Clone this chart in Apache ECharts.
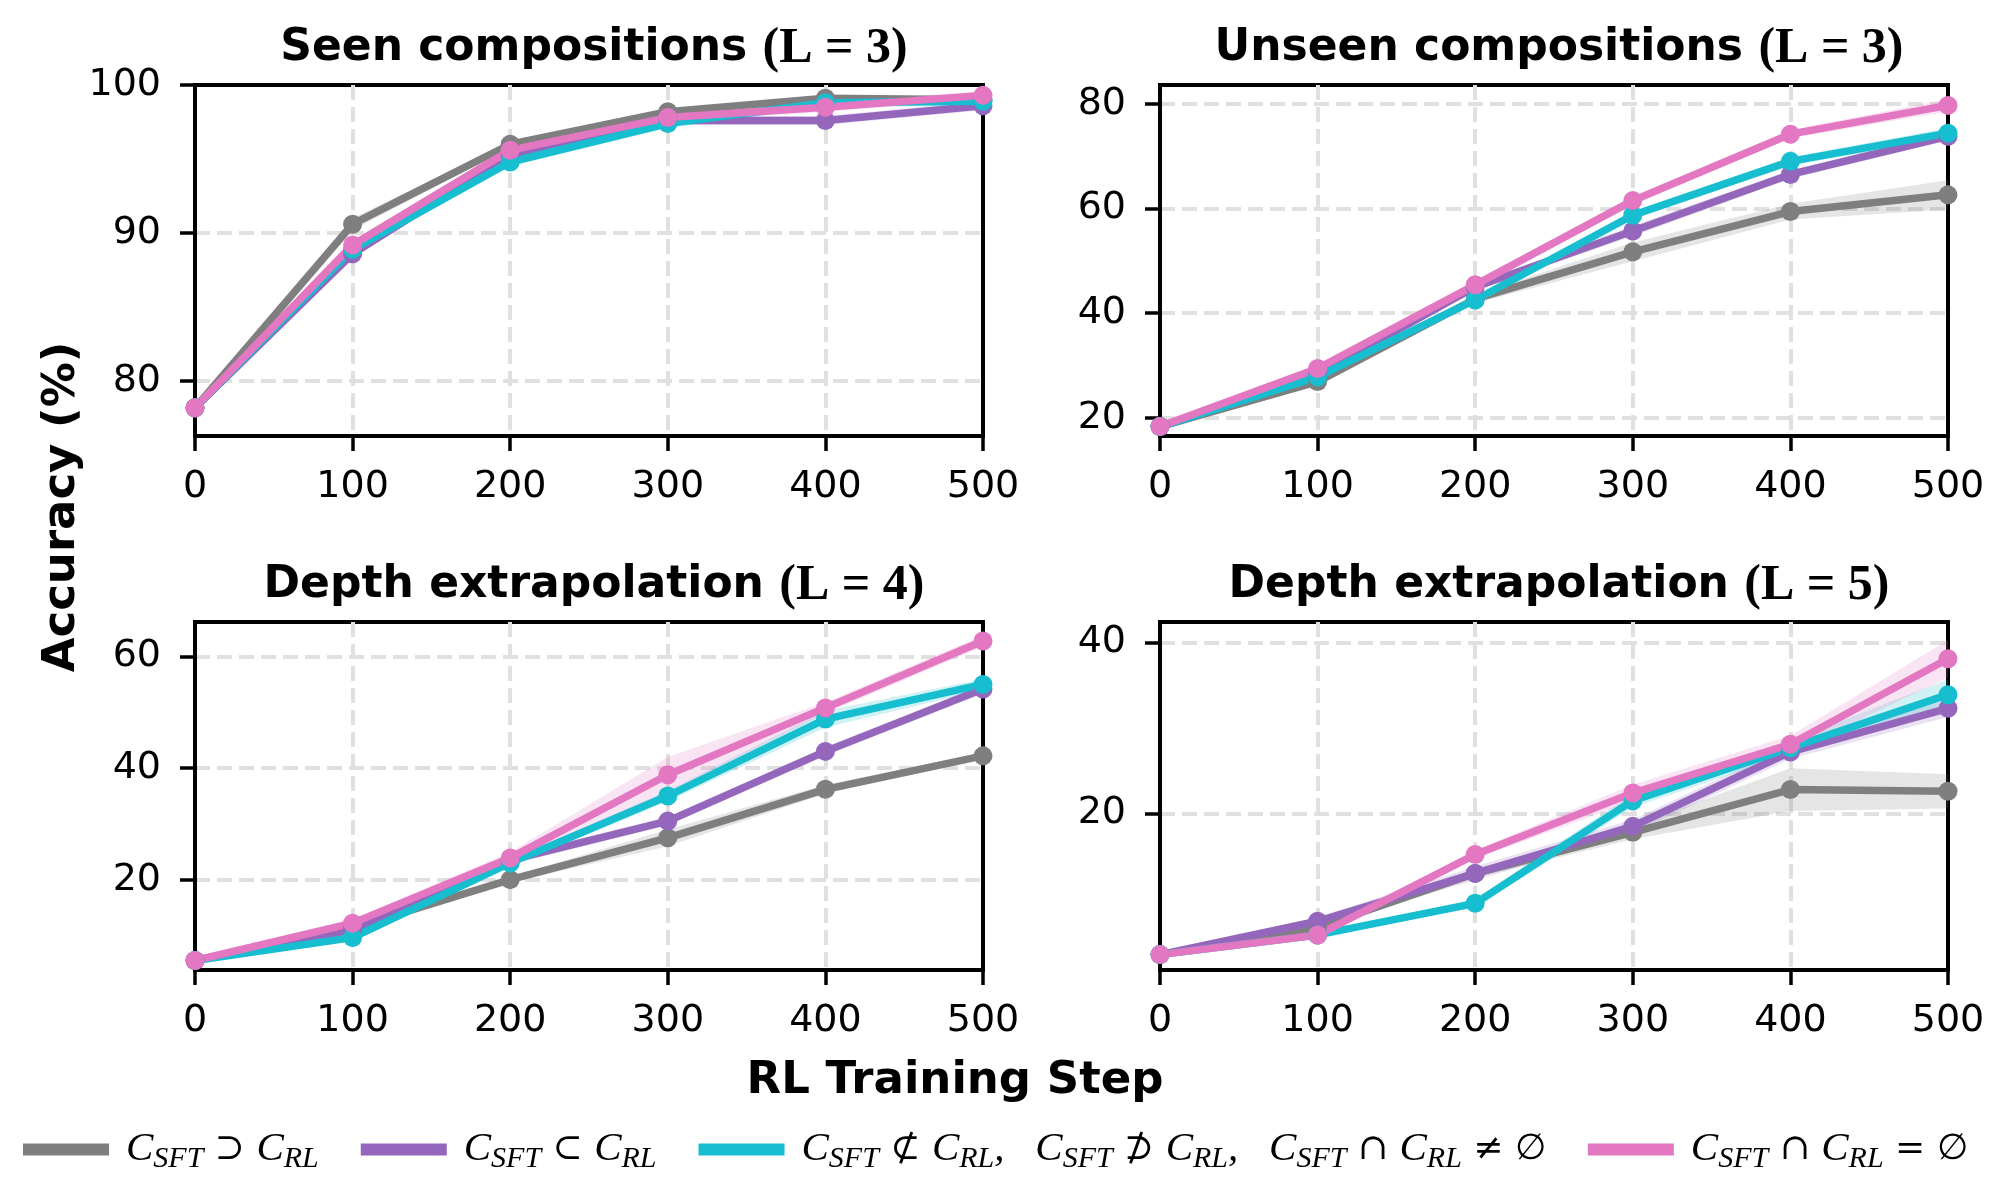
<!DOCTYPE html>
<html>
<head>
<meta charset="utf-8">
<script src="https://cdn.jsdelivr.net/npm/echarts@6/dist/echarts.min.js"></script>
<style>
  html, body { margin: 0; padding: 0; background: #fff; }
  #chart { width: 2010px; height: 1192px; }
</style>
</head>
<body>
<div id="chart"></div>
<script>
// RL training steps (x axis)
const steps = ['0', '100', '200', '300', '400', '500']

// Seen compositions (L=3)
const seenSup = [78.2, 90.6, 96.0, 98.2, 99.1, 99.0]
const seenSub = [78.2, 88.6, 95.3, 97.6, 97.6, 98.6]
const seenOverlap = [78.2, 88.9, 94.8, 97.4, 98.8, 98.9]
const seenDisjoint = [78.2, 89.2, 95.6, 97.8, 98.5, 99.3]
const seenSupStd = [0.1, 0.4, 0.2, 0.2, 0.2, 0.2]
const seenSubStd = [0.1, 0.3, 0.3, 0.3, 0.3, 0.3]
const seenOverlapStd = [0.1, 0.3, 0.3, 0.3, 0.3, 0.3]
const seenDisjointStd = [0.1, 0.3, 0.3, 0.3, 0.3, 0.3]
const seenTicks = [80, 90, 100]

// Unseen compositions (L=3)
const unseenSup = [18.3, 26.9, 42.7, 51.7, 59.4, 62.6]
const unseenSub = [18.3, 28.3, 45.0, 55.7, 66.5, 73.8]
const unseenOverlap = [18.3, 27.8, 42.5, 58.7, 69.0, 74.4]
const unseenDisjoint = [18.3, 29.4, 45.4, 61.5, 74.2, 79.7]
const unseenSupStd = [0.3, 0.8, 0.8, 1.8, 1.5, 2.8]
const unseenSubStd = [0.3, 0.5, 0.6, 1.0, 0.8, 0.8]
const unseenOverlapStd = [0.3, 0.5, 0.6, 0.8, 0.8, 1.0]
const unseenDisjointStd = [0.3, 0.5, 0.6, 0.8, 0.8, 1.2]
const unseenTicks = [20, 40, 60, 80]

// Depth extrapolation (L=4)
const depth4Sup = [5.5, 11.3, 20.0, 27.5, 36.2, 42.2]
const depth4Sub = [5.5, 11.0, 23.5, 30.5, 43.0, 54.2]
const depth4Overlap = [5.5, 9.6, 23.0, 35.0, 48.8, 55.0]
const depth4Disjoint = [5.5, 12.2, 23.9, 38.8, 50.8, 62.8]
const depth4SupStd = [0.3, 0.5, 0.5, 1.5, 0.8, 0.5]
const depth4SubStd = [0.3, 0.5, 0.8, 0.8, 0.8, 0.8]
const depth4OverlapStd = [0.3, 0.5, 0.5, 1.0, 1.5, 1.0]
const depth4DisjointStd = [0.3, 0.6, 1.0, 3.2, 1.0, 1.0]
const depth4Ticks = [20, 40, 60]

// Depth extrapolation (L=5)
const depth5Sup = [3.5, 6.7, 13.0, 17.8, 22.8, 22.6]
const depth5Sub = [3.5, 7.4, 13.0, 18.5, 27.2, 32.3]
const depth5Overlap = [3.5, 5.8, 9.5, 21.5, 27.7, 33.9]
const depth5Disjoint = [3.5, 5.8, 15.2, 22.4, 28.1, 38.1]
const depth5SupStd = [0.2, 0.5, 0.5, 0.8, 2.5, 2.0]
const depth5SubStd = [0.2, 0.5, 0.8, 0.8, 0.8, 1.0]
const depth5OverlapStd = [0.2, 0.3, 0.5, 0.8, 0.8, 1.8]
const depth5DisjointStd = [0.2, 0.3, 0.5, 1.0, 1.0, 2.2]
const depth5Ticks = [20, 40]

const names = ['sup', 'sub', 'overlap', 'disjoint']
const colors = ['#7f7f7f', '#9467bd', '#17becf', '#e377c2']

// 图例文字（数学符号）
const legendText = {
  sup: '{g|}{c|C}{s|SFT}{o| ⊃ }{c|C}{s|RL}',
  sub: '{g|}{c|C}{s|SFT}{o| ⊂ }{c|C}{s|RL}',
  overlap: '{g|}{c|C}{s|SFT}{o| ⊄ }{c|C}{s|RL}{c|,   }{c|C}{s|SFT}{o| ⊅ }{c|C}{s|RL}{c|,   }{c|C}{s|SFT}{o| ∩ }{c|C}{s|RL}{o| ≠ ∅}',
  disjoint: '{g|}{c|C}{s|SFT}{o| ∩ }{c|C}{s|RL}{o| = ∅}'
}

const panels = [
  { title: 'Seen compositions ', level: 3, left: 195, top: 85, height: 351, min: 76.3, max: 100, ticks: seenTicks,
    means: [seenSup, seenSub, seenOverlap, seenDisjoint], stds: [seenSupStd, seenSubStd, seenOverlapStd, seenDisjointStd] },
  { title: 'Unseen compositions ', level: 3, left: 1160, top: 85, height: 351, min: 16.5, max: 83.6, ticks: unseenTicks,
    means: [unseenSup, unseenSub, unseenOverlap, unseenDisjoint], stds: [unseenSupStd, unseenSubStd, unseenOverlapStd, unseenDisjointStd] },
  { title: 'Depth extrapolation ', level: 4, left: 195, top: 622, height: 348, min: 3.8, max: 66.2, ticks: depth4Ticks,
    means: [depth4Sup, depth4Sub, depth4Overlap, depth4Disjoint], stds: [depth4SupStd, depth4SubStd, depth4OverlapStd, depth4DisjointStd] },
  { title: 'Depth extrapolation ', level: 5, left: 1160, top: 622, height: 348, min: 1.7, max: 42.4, ticks: depth5Ticks,
    means: [depth5Sup, depth5Sub, depth5Overlap, depth5Disjoint], stds: [depth5SupStd, depth5SubStd, depth5OverlapStd, depth5DisjointStd] }
]

const PANEL_W = 788
const tickFont = { color: '#000', fontSize: 38, fontFamily: 'DejaVu Sans' }
const gridLine = (showMin, showMax) => ({
  show: true, showMinLine: showMin, showMaxLine: showMax,
  lineStyle: { color: '#e0e0e0', width: 4, type: [15, 7] }
})

const grid = []
const xAxis = []
const yAxis = []
const title = []
const bandSeries = []
const lineSeries = []

panels.forEach((p, k) => {
  grid.push({
    left: p.left, top: p.top, width: PANEL_W, height: p.height,
    show: true, borderColor: '#000', borderWidth: 4, backgroundColor: 'transparent',
    containLabel: false, outerBoundsMode: 'none'
  })
  xAxis.push({
    gridIndex: k, type: 'category', data: steps, boundaryGap: false,
    axisLine: { show: true, onZero: false, lineStyle: { color: '#000', width: 4 } },
    axisTick: { show: true, length: 15, lineStyle: { color: '#000', width: 3.5 } },
    axisLabel: { ...tickFont, margin: 32 },
    // 0 和 500 在边框上，不画网格线
    splitLine: gridLine(false, false)
  })
  yAxis.push({
    gridIndex: k, type: 'value', min: p.min, max: p.max,
    axisLine: { show: true, onZero: false, lineStyle: { color: '#000', width: 4 } },
    axisTick: { show: true, length: 15, customValues: p.ticks, lineStyle: { color: '#000', width: 3.5 } },
    axisLabel: { ...tickFont, margin: 34, customValues: p.ticks },
    splitLine: gridLine(p.ticks[0] > p.min, p.ticks[p.ticks.length - 1] < p.max)
  })
  title.push({
    text: '{a|' + p.title + '}{b|(L = ' + p.level + ')}',
    left: p.left + PANEL_W / 2,
    top: k < 2 ? 18 : 555,
    textAlign: 'center',
    textStyle: {
      rich: {
        a: { fontFamily: 'DejaVu Sans', fontWeight: 'bold', fontSize: 44, color: '#000', lineHeight: 52 },
        b: { fontFamily: 'Liberation Serif', fontWeight: 'bold', fontSize: 50, color: '#000', lineHeight: 52 }
      }
    }
  })

  p.means.forEach((m, i) => {
    const sd = p.stds[i]
    // 误差带：下界 + 带宽堆叠
    bandSeries.push({
      type: 'line', xAxisIndex: k, yAxisIndex: k, stack: 'band' + k + '_' + i,
      data: m.map((v, j) => v - sd[j]),
      symbol: 'none', lineStyle: { opacity: 0 }, silent: true, z: 2
    })
    bandSeries.push({
      type: 'line', xAxisIndex: k, yAxisIndex: k, stack: 'band' + k + '_' + i,
      data: sd.map(s => 2 * s),
      symbol: 'none', lineStyle: { opacity: 0 }, silent: true, z: 2,
      areaStyle: { color: colors[i], opacity: 0.2 }
    })
    lineSeries.push({
      name: names[i], type: 'line', xAxisIndex: k, yAxisIndex: k,
      data: m,
      symbol: 'circle', symbolSize: 19, showAllSymbol: true,
      lineStyle: { color: colors[i], width: 7.5 },
      itemStyle: { color: colors[i] },
      emphasis: { disabled: true }, z: 3
    })
  })
})

const chart = echarts.init(document.getElementById('chart'))
chart.setOption({
  animation: false,
  backgroundColor: '#fff',
  title,
  grid,
  xAxis,
  yAxis,
  legend: {
    data: names,
    left: 23, top: 1129, padding: 0,
    icon: 'rect', itemWidth: 86, itemHeight: 12, itemGap: 42,
    selectedMode: false,
    formatter: name => legendText[name],
    textStyle: {
      rich: {
        g: { width: 12 },
        c: { fontFamily: 'Liberation Serif', fontStyle: 'italic', fontSize: 41, lineHeight: 50, color: '#000' },
        s: { fontFamily: 'Liberation Serif', fontStyle: 'italic', fontSize: 30, lineHeight: 34, verticalAlign: 'bottom', color: '#000' },
        o: { fontFamily: 'DejaVu Serif', fontSize: 36, lineHeight: 50, color: '#000' }
      }
    }
  },
  graphic: [
    {
      type: 'text', x: 62, y: 507, rotation: Math.PI / 2,
      style: { text: 'Accuracy (%)', fontFamily: 'DejaVu Sans', fontWeight: 'bold', fontSize: 45, fill: '#000', align: 'center', verticalAlign: 'middle' }
    },
    {
      type: 'text', x: 955, y: 1081,
      style: { text: 'RL Training Step', fontFamily: 'DejaVu Sans', fontWeight: 'bold', fontSize: 45, fill: '#000', align: 'center', verticalAlign: 'middle' }
    }
  ],
  series: [...bandSeries, ...lineSeries]
})
</script>
</body>
</html>
